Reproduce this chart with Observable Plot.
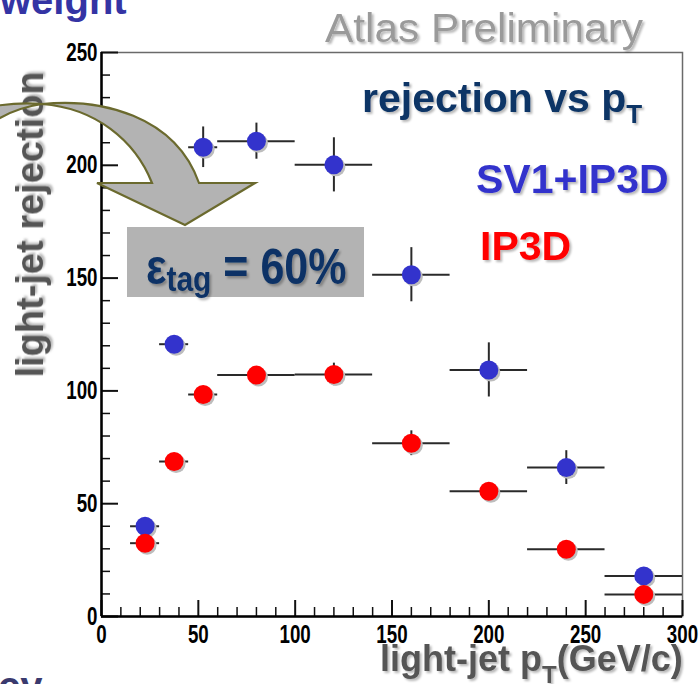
<!DOCTYPE html>
<html>
<head>
<meta charset="utf-8">
<script src="https://cdn.jsdelivr.net/npm/d3@7"></script>
<script src="https://cdn.jsdelivr.net/npm/@observablehq/plot@0.6"></script>
<style>
  html, body { margin: 0; padding: 0; background: #fff; overflow: hidden; }
  #chart svg { display: block; }
</style>
</head>
<body>
<div id="chart"></div>
<script>
// pT bins of the light jets (GeV/c)
const binLow    = [15, 30, 45, 60, 100, 140, 180, 220, 260];
const binHigh   = [30, 45, 60, 100, 140, 180, 220, 260, 300];
const binCenter = [22.5, 37.5, 52.5, 80, 120, 160, 200, 240, 280];

// light-jet rejection at 60% b-tag efficiency
const sv1Rejection  = [40, 120.7, 208, 210.7, 200.2, 151.5, 109.3, 66, 18];
const sv1Error      = [0, 0, 9, 8, 12, 12, 12, 7.5, 0];
const ip3dRejection = [32.5, 68.7, 98.4, 107, 107.3, 76.8, 55.5, 29.8, 9.8];
const ip3dError     = [0, 0, 0, 0, 5, 5.5, 0, 0, 0];

// axis ticks
const xMajor = [0, 50, 100, 150, 200, 250, 300];
const xMinor = d3.range(0, 301, 10).filter(v => v % 50 !== 0);
const yMajor = [0, 50, 100, 150, 200, 250];
const yMinor = d3.range(0, 251, 10).filter(v => v % 50 !== 0);

const series = (rej, err) => binCenter.map((x, i) => ({
  x, lo: binLow[i], hi: binHigh[i], rej: rej[i], err: err[i]
}));
const sv1  = series(sv1Rejection, sv1Error);
const ip3d = series(ip3dRejection, ip3dError);

const W = 700, H = 684;
const mL = 101, mR = 18, mT = 52, mB = 68;
const innerW = W - mL - mR, innerH = H - mT - mB;

const tickFont = "'Liberation Sans', Arial, sans-serif";
const blue = "#3333cc", red = "#ff0000", barColor = "#2a2a2a";

const bars = (data) => [
  Plot.ruleY(data, {y: "rej", x1: "lo", x2: "hi", stroke: barColor, strokeWidth: 2}),
  Plot.ruleX(data.filter(d => d.err > 0), {
    x: "x", y1: d => d.rej - d.err, y2: d => d.rej + d.err, stroke: barColor, strokeWidth: 2
  })
];
const dots = (data, color) => [
  Plot.dot(data, {x: "x", y: "rej", r: 9.5, fill: "#bdbdbd", dx: 2, dy: 2}),
  Plot.dot(data, {x: "x", y: "rej", r: 9.5, fill: color})
];

const plot = Plot.plot({
  width: W, height: H,
  marginLeft: mL, marginRight: mR, marginTop: mT, marginBottom: mB,
  x: {domain: [0, 300], label: null},
  y: {domain: [0, 250], label: null},
  style: {background: "white", fontFamily: "'Liberation Sans', Arial, sans-serif", overflow: "visible"},
  marks: [
    Plot.frame({stroke: "#6a6a6a", strokeWidth: 1.5}),
    Plot.tickY(yMinor, {y: d => d, insetRight: innerW - 9, stroke: "#111", strokeWidth: 1.5}),
    Plot.tickY(yMajor, {y: d => d, insetRight: innerW - 17, stroke: "#111", strokeWidth: 2}),
    Plot.tickX(xMinor, {x: d => d, insetTop: innerH - 9, stroke: "#111", strokeWidth: 1.5}),
    Plot.tickX(xMajor, {x: d => d, insetTop: innerH - 16, stroke: "#111", strokeWidth: 2}),
    Plot.ruleX([0], {stroke: "#000", strokeWidth: 2.5}),
    Plot.ruleY([0], {stroke: "#000", strokeWidth: 2.5}),
    Plot.axisY(yMajor, {tickSize: 0, tickPadding: 4, fontSize: 25, fontWeight: "bold",
      fontFamily: tickFont, fill: "#000", label: null}),
    Plot.axisX(xMajor, {tickSize: 0, tickPadding: 9, fontSize: 25, fontWeight: "bold",
      fontFamily: tickFont, fill: "#000", label: null}),
    ...bars(sv1),
    ...bars(ip3d),
    ...dots(sv1, blue),
    ...dots(ip3d, red)
  ]
});

document.getElementById("chart").append(plot);

const svg = d3.select(plot);

// condensed look for the tick numbers
svg.selectAll("g[aria-label='y-axis tick label'] text, g[aria-label='x-axis tick label'] text")
  .each(function () {
    const t = this.getAttribute("transform") || "";
    this.setAttribute("transform", t + " scale(0.75,1)");
  });

// ---- annotations ----
const defs = svg.append("defs");
defs.append("filter").attr("id", "shadow")
  .attr("x", "-10%").attr("y", "-20%").attr("width", "130%").attr("height", "150%")
  .append("feDropShadow")
  .attr("dx", 2).attr("dy", 2).attr("stdDeviation", 0.8)
  .attr("flood-color", "#000").attr("flood-opacity", 0.28);

const ann = svg.append("g")
  .attr("font-family", "'Liberation Sans', Arial, sans-serif")
  .attr("text-anchor", "start");

// fragments of the surrounding slide text
ann.append("text").attr("x", 0).attr("y", 14)
  .attr("font-size", 40).attr("font-weight", "bold").attr("fill", "#3434a4")
  .text("weight");
ann.append("text").attr("x", -2).attr("y", 700)
  .attr("font-size", 40).attr("font-weight", "bold").attr("fill", "#3a3a6e")
  .text("cy");

// axis titles
ann.append("text")
  .attr("transform", "translate(43,224.5) rotate(-90)")
  .attr("text-anchor", "middle")
  .attr("font-size", 38).attr("font-weight", "bold").attr("fill", "#555")
  .attr("filter", "url(#shadow)")
  .text("light-jet rejection");

const xt = ann.append("text").attr("x", 380).attr("y", 671)
  .attr("font-size", 36).attr("font-weight", "bold").attr("fill", "#555")
  .attr("filter", "url(#shadow)");
xt.append("tspan").text("light-jet p");
xt.append("tspan").attr("font-size", 24).attr("dy", 12).text("T");
xt.append("tspan").attr("dy", -12).text("(GeV/c)");

// header and legend text
ann.append("text").attr("x", 325).attr("y", 42)
  .attr("font-size", 40).attr("fill", "#9a9a9a")
  .attr("textLength", 318).attr("lengthAdjust", "spacingAndGlyphs")
  .attr("filter", "url(#shadow)")
  .text("Atlas Preliminary");

const rt = ann.append("text").attr("x", 362).attr("y", 112)
  .attr("font-size", 41).attr("font-weight", "bold").attr("fill", "#0f3566")
  .attr("filter", "url(#shadow)");
rt.append("tspan").text("rejection vs p");
rt.append("tspan").attr("font-size", 26).attr("dy", 11).text("T");

ann.append("text").attr("x", 476).attr("y", 193)
  .attr("font-size", 41).attr("font-weight", "bold").attr("fill", blue)
  .attr("filter", "url(#shadow)")
  .text("SV1+IP3D");
ann.append("text").attr("x", 480).attr("y", 260)
  .attr("font-size", 41).attr("font-weight", "bold").attr("fill", red)
  .attr("filter", "url(#shadow)")
  .text("IP3D");

// curved call-out arrow pointing at the efficiency box
const arrow = d3.path();
arrow.moveTo(-5, 106);
arrow.quadraticCurveTo(20, 102, 42, 104);
arrow.bezierCurveTo(100, 98, 175, 115, 199, 183);
arrow.lineTo(255, 183);
arrow.lineTo(185, 225);
arrow.lineTo(97, 183);
arrow.lineTo(152, 183);
arrow.bezierCurveTo(135, 140, 95, 108, 42, 104);
arrow.quadraticCurveTo(15, 108, -5, 121);
arrow.closePath();
ann.append("path").attr("d", arrow.toString())
  .attr("fill", "#b3b3b3").attr("stroke", "#6b6a2e").attr("stroke-width", 2.2)
  .attr("stroke-linejoin", "miter");

// efficiency box
ann.append("rect").attr("x", 127).attr("y", 227).attr("width", 237).attr("height", 70)
  .attr("fill", "#b3b3b3");
const et = ann.append("text").attr("transform", "translate(146,284) scale(1,1.15)")
  .attr("font-size", 43).attr("font-weight", "bold").attr("fill", "#0d3366")
  .attr("filter", "url(#shadow)");
et.append("tspan").text("ε");
et.append("tspan").attr("font-size", 30).attr("dy", 6).text("tag");
et.append("tspan").attr("dy", -6).text(" = 60%");
</script>
</body>
</html>
